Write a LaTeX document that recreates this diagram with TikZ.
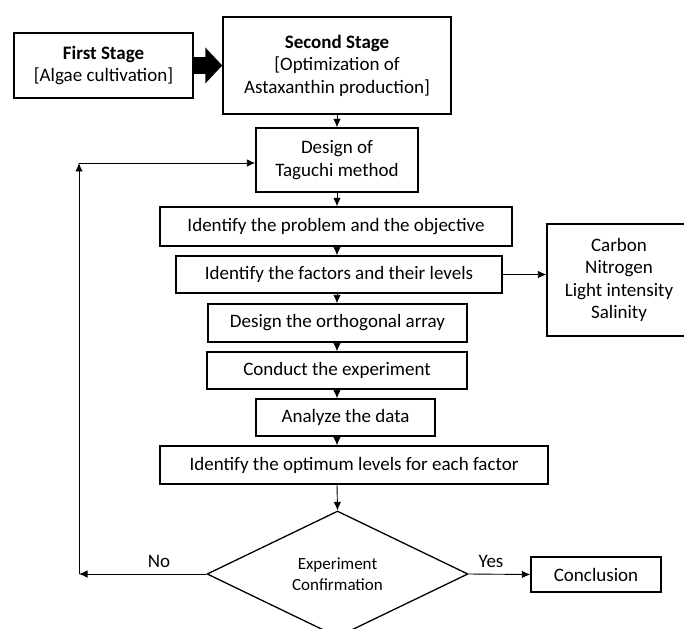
\documentclass[tikz,border=0pt]{standalone}
\usepackage{fontspec}
\setmainfont{Carlito}
\usetikzlibrary{shapes.geometric,arrows.meta}
\begin{document}
\begin{tikzpicture}[x=1pt,y=-1pt,
  box/.style={draw, line width=1.4pt, inner sep=0pt, align=center, font=\fontsize{19}{22.5}\selectfont},
  conn/.style={line width=0.9pt, -{Latex[length=8.5pt,width=7.5pt]}},
  lbl/.style={inner sep=0pt, font=\fontsize{19}{22}\selectfont}]
\useasboundingbox (0,0) rectangle (684,628);
\node[box, minimum width=179pt, minimum height=65pt] (first) at (103.5,65.5) {\textbf{First Stage}\\{}[Algae cultivation]};
\node[box, minimum width=228pt, minimum height=97pt] (second) at (337,65.5) {\textbf{Second Stage}\\{}[Optimization of\\Astaxanthin production]};
\node[box, minimum width=162pt, minimum height=64pt] (design) at (337,160) {Design of\\Taguchi method};
\node[box, minimum width=352pt, minimum height=39pt] (problem) at (336,226.5) {Identify the problem and the objective};
\node[box, minimum width=326pt, minimum height=37pt] (factors) at (339,274.5) {Identify the factors and their levels};
\node[box, minimum width=144pt, minimum height=112pt] (carbon) at (619,280) {Carbon\\Nitrogen\\Light intensity\\Salinity};
\node[box, minimum width=259pt, minimum height=38pt] (orth) at (337.5,323) {Design the orthogonal array};
\node[box, minimum width=260pt, minimum height=37pt] (conduct) at (337,370.5) {Conduct the experiment};
\node[box, minimum width=179pt, minimum height=37pt] (analyze) at (345.5,417.5) {Analyze the data};
\node[box, minimum width=388pt, minimum height=38pt] (optimum) at (354,465) {Identify the optimum levels for each factor};
\node[box, diamond, line width=1.3pt, minimum width=261pt, minimum height=126pt, font=\fontsize{17}{21}\selectfont] (dia) at (337.5,574) {Experiment\\Confirmation};
\node[box, minimum width=130pt, minimum height=35pt] (concl) at (596,574.5) {Conclusion};
\coordinate (lb) at (79,574);
\coordinate (lt) at (79,163);
\node[lbl] (no) at (159,561) {No};
\node[lbl] (yes) at (491,561) {Yes};
\draw[line width=17pt, -{Triangle[length=17pt,width=35pt]}] (first.east) -- (second.west);
\draw[conn] (second.south) -- (design.north);
\draw[conn] (design.south) -- (design.south |- problem.north);
\draw[conn] (design.south |- problem.south) -- (design.south |- factors.north);
\draw[conn] (design.south |- factors.south) -- (design.south |- orth.north);
\draw[conn] (design.south |- orth.south) -- (design.south |- conduct.north);
\draw[conn] (design.south |- conduct.south) -- (design.south |- analyze.north);
\draw[conn] (design.south |- analyze.south) -- (design.south |- optimum.north);
\draw[conn] (design.south |- optimum.south) -- (dia.north);
\draw[conn] (factors.east) -- (carbon.west |- factors.east);
\draw[conn] (dia.east) -- (concl.west);
\draw[conn] (dia.west) -- (lb);
\draw[conn] (lb) -- (lt);
\draw[conn] (lt) -- (lt -| design.west);
\end{tikzpicture}
\end{document}
